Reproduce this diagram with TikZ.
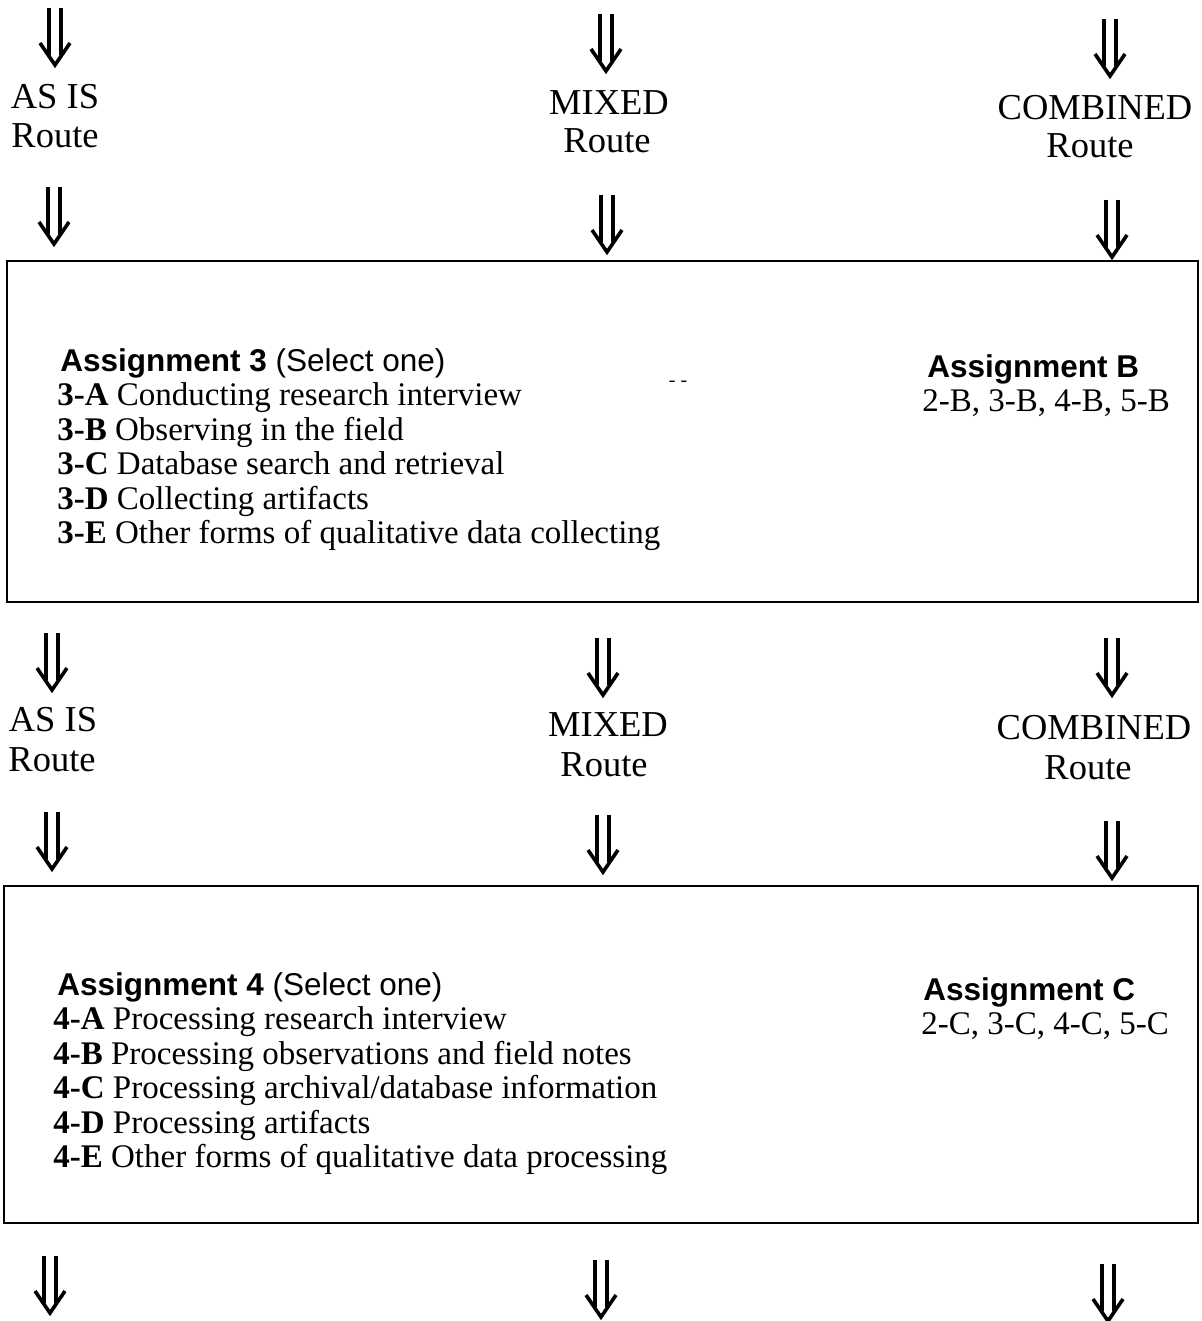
\documentclass[tikz,border=0pt]{standalone}
\usepackage{fontspec}
\setmainfont{Liberation Serif}
\setsansfont{Liberation Sans}
\usetikzlibrary{positioning}

\tikzset{
  route/.style={font=\fontsize{18.25}{20}\selectfont, inner sep=0pt, anchor=base},
  item/.style={font=\fontsize{16.5}{17.25}\selectfont, inner sep=0pt, anchor=base west},
  head/.style={font=\sffamily\fontsize{15.75}{17}\selectfont, inner sep=0pt, anchor=base west},
  panel/.style={line width=1.4pt},
  dnarrow/.pic={
    \draw[line width=1.8pt] (-6,0) -- (-6,47) (6,0) -- (6,47);
    \draw[line width=1.8pt, line join=miter] (-15,35) -- (0,57) -- (15,35);
  }
}

\begin{document}
\begin{tikzpicture}[x=0.5pt, y=-0.5pt]
\useasboundingbox (0,0) rectangle (1201,1321);
% down arrows, five rows of three
\foreach \x/\y in {55/8,606/14,1110/19, 54/187,607/195,1112/200,
                   52/633,603/638,1112/638, 52/812,603/815,1112/821,
                   50/1256,601/1260,1108/1264} {
  \pic at (\x,\y) {dnarrow};
}
% route labels above the first box
\node[route] (asis1) at (55,109) {AS IS};
\node[route] (asis1r) at (55,148) {Route};
\node[route] (mixed1) at (609,115) {MIXED};
\node[route] (mixed1r) at (607,153) {Route};
\node[route] (comb1) at (1095,120) {COMBINED};
\node[route] (comb1r) at (1090,158) {Route};
% Assignment 3 box
\draw[panel] (7,261) rectangle (1198,602);
\node[head] (asg3) at (60,371) {\textbf{Assignment 3} (Select one)};
\foreach \k/\t [count=\i] in {A/Conducting research interview,
    B/Observing in the field, C/Database search and retrieval,
    D/Collecting artifacts, E/Other forms of qualitative data collecting} {
  \node[item] (a3\k) at (57,371+34.5*\i) {\textbf{3-\k} \t};
}
\node[font=\fontsize{10}{12}\selectfont, inner sep=0pt] (dash) at (678,384) {- -};
\node[head] (asgB) at (927,377) {\textbf{Assignment B}};
\node[item] (listB) at (922,411) {2-B, 3-B, 4-B, 5-B};
% route labels above the second box
\node[route] (asis2) at (53,731) {AS IS};
\node[route] (asis2r) at (52,771) {Route};
\node[route] (mixed2) at (608,736) {MIXED};
\node[route] (mixed2r) at (604,776) {Route};
\node[route] (comb2) at (1094,739) {COMBINED};
\node[route] (comb2r) at (1088,779) {Route};
% Assignment 4 box
\draw[panel] (4,886) rectangle (1198,1223);
\node[head] (asg4) at (57,995) {\textbf{Assignment 4} (Select one)};
\foreach \k/\t [count=\i] in {A/Processing research interview,
    B/Processing observations and field notes,
    C/{Processing archival/database information},
    D/Processing artifacts, E/Other forms of qualitative data processing} {
  \node[item] (a4\k) at (53,995+34.5*\i) {\textbf{4-\k} \t};
}
\node[head] (asgC) at (923,1000) {\textbf{Assignment C}};
\node[item] (listC) at (921,1034) {2-C, 3-C, 4-C, 5-C};
\end{tikzpicture}
\end{document}
